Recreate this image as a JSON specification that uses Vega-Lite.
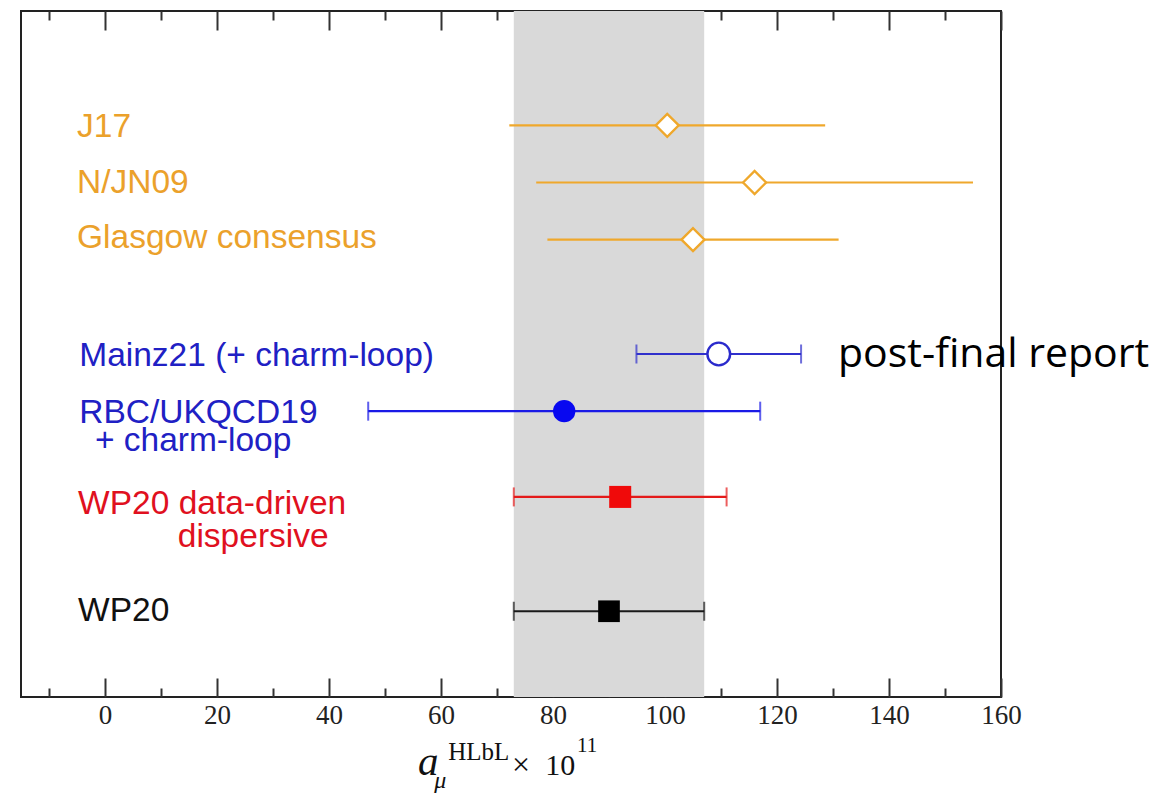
{
  "$schema": "https://vega.github.io/schema/vega-lite/v6.json",
  "width": 980,
  "height": 686,
  "autosize": {"type": "none"},
  "padding": {"left": 21, "top": 11, "right": 159, "bottom": 96},
  "background": "white",
  "config": {
    "view": {"stroke": "#222", "strokeWidth": 2},
    "axis": {"grid": false, "domain": false}
  },
  "datasets": {
    "results": [
      {"name": "J17", "category": "pheno", "row": 2, "value": 100.4, "lo": 72.2, "hi": 128.6},
      {"name": "N/JN09", "category": "pheno", "row": 3, "value": 116, "lo": 77, "hi": 155},
      {"name": "Glasgow consensus", "category": "pheno", "row": 4, "value": 105, "lo": 79, "hi": 131},
      {"name": "Mainz21 (+ charm-loop)", "category": "lattice21", "row": 6, "value": 109.6, "lo": 94.9, "hi": 124.3},
      {"name": "RBC/UKQCD19 + charm-loop", "category": "lattice19", "row": 7, "value": 82, "lo": 47, "hi": 117},
      {"name": "WP20 data-driven dispersive", "category": "dd", "row": 8.5, "value": 92, "lo": 73, "hi": 111},
      {"name": "WP20", "category": "wp", "row": 10.5, "value": 90, "lo": 73, "hi": 107}
    ],
    "labels": [
      {"label": "J17", "category": "pheno", "lx": -5, "ly": 2.199},
      {"label": "N/JN09", "category": "pheno", "lx": -5, "ly": 3.183},
      {"label": "Glasgow consensus", "category": "pheno", "lx": -5, "ly": 4.151},
      {"label": "Mainz21 (+ charm-loop)", "category": "lattice21", "lx": -4.6, "ly": 6.204},
      {"label": "RBC/UKQCD19", "category": "lattice19", "lx": -4.6, "ly": 7.21},
      {"label": "+ charm-loop", "category": "lattice19", "lx": -1.8, "ly": 7.70},
      {"label": "WP20 data-driven", "category": "dd", "lx": -4.8, "ly": 8.804},
      {"label": "dispersive", "category": "dd", "lx": 13.0, "ly": 9.376},
      {"label": "WP20", "category": "wp", "lx": -4.8, "ly": 10.665}
    ]
  },
  "resolve": {"axis": {"x": "independent"}, "scale": {"color": "independent"}},
  "layer": [
    {
      "data": {"name": "results"},
      "transform": [{"filter": "datum.name === 'WP20'"}],
      "mark": {"type": "rect", "color": "#d9d9d9"},
      "encoding": {
        "x": {
          "field": "lo", "type": "quantitative",
          "scale": {"domain": [-15, 160], "nice": false, "zero": false},
          "axis": {
            "orient": "bottom", "values": [0, 20, 40, 60, 80, 100, 120, 140, 160],
            "tickSize": -19, "tickWidth": 2, "tickColor": "#333",
            "labelFont": "Liberation Serif", "labelFontSize": 27, "labelColor": "#222",
            "labelPadding": 24, "labelFlush": false, "labelOverlap": false,
            "title": null, "domain": false, "grid": false
          }
        },
        "x2": {"field": "hi"}
      }
    },
    {
      "data": {"name": "results"},
      "mark": {"type": "rule", "strokeWidth": 2.2},
      "encoding": {
        "x": {
          "field": "lo", "type": "quantitative",
          "axis": {
            "orient": "top", "values": [0, 20, 40, 60, 80, 100, 120, 140, 160],
            "tickSize": -19, "tickWidth": 2, "tickColor": "#333",
            "labels": false, "title": null, "domain": false, "grid": false
          }
        },
        "x2": {"field": "hi"},
        "y": {"field": "row", "type": "quantitative", "scale": {"domain": [0, 12], "reverse": true, "nice": false, "zero": false}, "axis": null},
        "color": {
          "field": "category", "type": "nominal", "legend": null,
          "scale": {"domain": ["pheno", "lattice21", "lattice19", "dd", "wp"], "range": ["#efa82c", "#3030cc", "#1a1ae6", "#e41a1a", "#1a1a1a"]}
        }
      }
    },
    {
      "data": {"name": "results"},
      "transform": [
        {"filter": "datum.category !== 'pheno'"},
        {"fold": ["lo", "hi"], "as": ["end", "pos"]}
      ],
      "mark": {"type": "tick", "orient": "vertical", "size": 19, "thickness": 2},
      "encoding": {
        "x": {
          "field": "pos", "type": "quantitative",
          "axis": {
            "orient": "bottom", "values": [-10, 10, 30, 50, 70, 90, 110, 130, 150],
            "tickSize": -9, "tickWidth": 2, "tickColor": "#333",
            "labels": false, "title": null, "domain": false, "grid": false
          }
        },
        "y": {"field": "row", "type": "quantitative", "axis": null},
        "color": {
          "field": "category", "type": "nominal", "legend": null,
          "scale": {"domain": ["pheno", "lattice21", "lattice19", "dd", "wp"], "range": ["#efa82c", "#3030cc", "#1a1ae6", "#e41a1a", "#1a1a1a"]}
        }
      }
    },
    {
      "data": {"name": "results"},
      "transform": [{"filter": "datum.category === 'pheno' || datum.category === 'lattice21'"}],
      "mark": {"type": "point", "filled": false, "fill": "white", "strokeWidth": 2.4, "opacity": 1},
      "encoding": {
        "x": {
          "field": "value", "type": "quantitative",
          "axis": {
            "orient": "top", "values": [-10, 10, 30, 50, 70, 90, 110, 130, 150],
            "tickSize": -9, "tickWidth": 2, "tickColor": "#333",
            "labels": false, "title": null, "domain": false, "grid": false
          }
        },
        "y": {"field": "row", "type": "quantitative", "axis": null},
        "color": {
          "field": "category", "type": "nominal", "legend": null,
          "scale": {"domain": ["pheno", "lattice21", "lattice19", "dd", "wp"], "range": ["#efa82c", "#2a2acc", "#0808f0", "#f00a0a", "#000000"]}
        },
        "shape": {
          "field": "category", "type": "nominal", "legend": null,
          "scale": {"domain": ["pheno", "lattice21", "lattice19", "dd", "wp"], "range": ["diamond", "circle", "circle", "square", "square"]}
        },
        "size": {
          "field": "category", "type": "nominal", "legend": null,
          "scale": {"domain": ["pheno", "lattice21", "lattice19", "dd", "wp"], "range": [529, 470, 531, 484, 313]}
        }
      }
    },
    {
      "data": {"name": "results"},
      "transform": [{"filter": "datum.category !== 'pheno' && datum.category !== 'lattice21'"}],
      "mark": {"type": "point", "filled": true, "opacity": 1},
      "encoding": {
        "x": {"field": "value", "type": "quantitative", "axis": null},
        "y": {"field": "row", "type": "quantitative", "axis": null},
        "color": {
          "field": "category", "type": "nominal", "legend": null,
          "scale": {"domain": ["pheno", "lattice21", "lattice19", "dd", "wp"], "range": ["#efa82c", "#2a2acc", "#0808f0", "#f00a0a", "#000000"]}
        },
        "shape": {
          "field": "category", "type": "nominal", "legend": null,
          "scale": {"domain": ["pheno", "lattice21", "lattice19", "dd", "wp"], "range": ["diamond", "circle", "circle", "square", "square"]}
        },
        "size": {
          "field": "category", "type": "nominal", "legend": null,
          "scale": {"domain": ["pheno", "lattice21", "lattice19", "dd", "wp"], "range": [529, 470, 531, 484, 313]}
        }
      }
    },
    {
      "data": {"name": "labels"},
      "mark": {"type": "text", "align": "left", "baseline": "alphabetic", "font": "Liberation Sans", "fontSize": 33.5},
      "encoding": {
        "x": {"field": "lx", "type": "quantitative", "axis": null},
        "y": {"field": "ly", "type": "quantitative", "axis": null},
        "text": {"field": "label"},
        "color": {
          "field": "category", "type": "nominal", "legend": null,
          "scale": {"domain": ["pheno", "lattice21", "lattice19", "dd", "wp"], "range": ["#eba12b", "#2020c4", "#2020c4", "#e01020", "#111111"]}
        }
      }
    },
    {
      "data": {"values": [{}]},
      "mark": {"type": "text", "text": "post-final report", "align": "left", "baseline": "alphabetic", "font": "Open Sans", "fontSize": 41, "color": "#000000"},
      "encoding": {
        "x": {"datum": 130.9, "type": "quantitative", "axis": null},
        "y": {"datum": 6.227, "type": "quantitative", "axis": null}
      }
    },
    {
      "data": {"values": [{}]},
      "mark": {"type": "text", "text": "a", "align": "left", "baseline": "alphabetic", "font": "Liberation Serif", "fontStyle": "italic", "fontSize": 41, "color": "#111111"},
      "encoding": {
        "x": {"datum": 55.9, "type": "quantitative", "axis": null},
        "y": {"datum": 13.36, "type": "quantitative", "axis": null}
      }
    },
    {
      "data": {"values": [{}]},
      "mark": {"type": "text", "text": "μ", "align": "left", "baseline": "alphabetic", "font": "Liberation Serif", "fontStyle": "italic", "fontSize": 24, "color": "#111111"},
      "encoding": {
        "x": {"datum": 58.8, "type": "quantitative", "axis": null},
        "y": {"datum": 13.6, "type": "quantitative", "axis": null}
      }
    },
    {
      "data": {"values": [{}]},
      "mark": {"type": "text", "text": "HLbL", "align": "left", "baseline": "alphabetic", "font": "Liberation Serif", "fontSize": 25, "color": "#111111"},
      "encoding": {
        "x": {"datum": 61.3, "type": "quantitative", "axis": null},
        "y": {"datum": 13.1, "type": "quantitative", "axis": null}
      }
    },
    {
      "data": {"values": [{}]},
      "mark": {"type": "text", "text": "×", "align": "left", "baseline": "alphabetic", "font": "Liberation Serif", "fontSize": 32, "color": "#111111"},
      "encoding": {
        "x": {"datum": 72.7, "type": "quantitative", "axis": null},
        "y": {"datum": 13.36, "type": "quantitative", "axis": null}
      }
    },
    {
      "data": {"values": [{}]},
      "mark": {"type": "text", "text": "10", "align": "left", "baseline": "alphabetic", "font": "Liberation Serif", "fontSize": 30, "color": "#111111"},
      "encoding": {
        "x": {"datum": 78.6, "type": "quantitative", "axis": null},
        "y": {"datum": 13.36, "type": "quantitative", "axis": null}
      }
    },
    {
      "data": {"values": [{}]},
      "mark": {"type": "text", "text": "11", "align": "left", "baseline": "alphabetic", "font": "Liberation Serif", "fontSize": 21, "color": "#111111"},
      "encoding": {
        "x": {"datum": 84.3, "type": "quantitative", "axis": null},
        "y": {"datum": 12.96, "type": "quantitative", "axis": null}
      }
    }
  ]
}
